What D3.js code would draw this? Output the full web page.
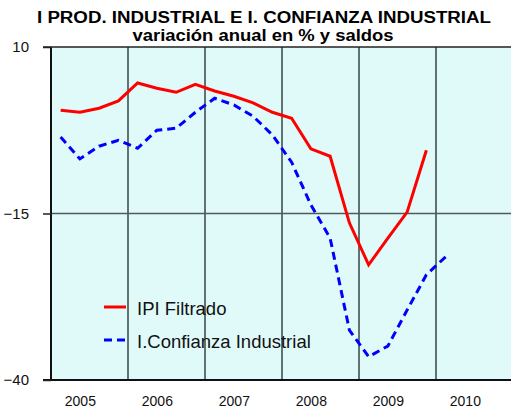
<html>
<head>
<meta charset="utf-8">
<style>
body { margin: 0; background: #fff; font-family: 'Liberation Sans', Arial, sans-serif; }
svg { display: block; }
</style>
</head>
<body>
<svg width="511" height="413"></svg>
<script src="https://d3js.org/d3.v7.min.js"></script>
<script>
// quarters 2005T1 .. 2010T1
const quarters = ["2005T1","2005T2","2005T3","2005T4","2006T1","2006T2","2006T3","2006T4",
	"2007T1","2007T2","2007T3","2007T4","2008T1","2008T2","2008T3","2008T4",
	"2009T1","2009T2","2009T3","2009T4","2010T1"];
const ipi = [0.5, 0.2, 0.8, 1.9, 4.6, 3.8, 3.2, 4.4, 3.4, 2.6, 1.6, 0.2, -0.7, -5.3, -6.4, -16.4,
	-22.7, -18.7, -14.8, -5.5];
const confianza = [-3.5, -6.8, -4.9, -4.0, -5.2, -2.5, -2.2, 0.2, 2.3, 1.3, -0.4, -3.2, -7.3, -13.7,
	-18.7, -32.5, -36.5, -34.9, -29.5, -24.2, -21.5];
const years = [2005, 2006, 2007, 2008, 2009, 2010];
const yTicks = [10, -15, -40];

// quarter label -> decimal year at middle of quarter
function qx(q) {
	return +q.slice(0, 4) + (+q.slice(5) - 0.5) / 4;
}

const svg = d3.select("svg");
const pLeft = 51, pRight = 513, pTop = 47, pBottom = 380;

const x = d3.scaleLinear().domain([2005, 2011]).range([pLeft, pRight]);
const y = d3.scaleLinear().domain([-40, 10]).range([pBottom, pTop]);

// plot background
svg.append("rect")
	.attr("x", pLeft).attr("y", pTop)
	.attr("width", pRight - pLeft).attr("height", pBottom - pTop)
	.attr("fill", "#e0fafa");

// vertical grid at year boundaries
svg.append("g")
	.selectAll("line")
	.data(years.slice(1))
	.enter()
	.append("line")
	.attr("x1", d => x(d)).attr("x2", d => x(d))
	.attr("y1", pTop).attr("y2", pBottom)
	.attr("stroke", "#607272")
	.attr("stroke-width", 2);

// horizontal grid at -15
svg.append("line")
	.attr("x1", pLeft).attr("x2", pRight)
	.attr("y1", y(-15)).attr("y2", y(-15))
	.attr("stroke", "#505a5a")
	.attr("stroke-width", 1.5);

// frame: top, left, bottom
svg.append("line").attr("x1", pLeft - 8).attr("x2", pRight).attr("y1", pTop).attr("y2", pTop)
	.attr("stroke", "#222").attr("stroke-width", 1.5);
svg.append("line").attr("x1", pLeft - 8).attr("x2", pRight).attr("y1", pBottom).attr("y2", pBottom)
	.attr("stroke", "#111").attr("stroke-width", 2);
svg.append("line").attr("x1", pLeft).attr("x2", pLeft).attr("y1", pTop).attr("y2", pBottom)
	.attr("stroke", "#111").attr("stroke-width", 2);

// y axis
const yAxis = svg.append("g")
	.attr("transform", "translate(" + pLeft + ",0)")
	.call(d3.axisLeft(y).tickValues(yTicks).tickSize(8).tickPadding(14).tickFormat(d3.format("d")));
yAxis.select(".domain").remove();
yAxis.selectAll("line").attr("stroke", "#222").attr("stroke-width", 1.5);
yAxis.selectAll("text")
	.attr("fill", "#111")
	.style("font-size", "15px")
	.style("font-family", "'Liberation Sans', Arial, sans-serif");

// x axis labels (centred on 2nd quarter)
const xAxis = svg.append("g")
	.attr("transform", "translate(0," + pBottom + ")")
	.call(d3.axisBottom(x).tickValues(years.map(d => d + 0.375)).tickSize(0).tickPadding(16)
		.tickFormat(d => String(Math.floor(d))));
xAxis.select(".domain").remove();
xAxis.selectAll("text")
	.attr("fill", "#111")
	.style("font-size", "14px")
	.style("font-family", "'Liberation Sans', Arial, sans-serif");

// lines
const line = d3.line()
	.x((d, i) => x(qx(quarters[i])))
	.y(d => y(d));

svg.append("path")
	.datum(confianza)
	.attr("d", line)
	.attr("fill", "none")
	.attr("stroke", "#0000ff")
	.attr("stroke-width", 3)
	.attr("stroke-dasharray", "8,5");

svg.append("path")
	.datum(ipi)
	.attr("d", line)
	.attr("fill", "none")
	.attr("stroke", "#ff0000")
	.attr("stroke-width", 3);

// legend
const legend = [
	{ name: "IPI Filtrado", color: "#ff0000", dash: null },
	{ name: "I.Confianza Industrial", color: "#0000ff", dash: "8,5" }
];
const lg = svg.append("g").selectAll("g")
	.data(legend)
	.enter()
	.append("g")
	.attr("transform", (d, i) => "translate(104," + (307 + i * 33) + ")");
lg.append("line")
	.attr("x1", 0).attr("x2", 22)
	.attr("stroke", d => d.color)
	.attr("stroke-width", 3)
	.attr("stroke-dasharray", d => d.dash);
lg.append("text")
	.attr("x", 33).attr("y", 7.5)
	.style("font-size", "18.5px")
	.attr("fill", "#111")
	.text(d => d.name);

// titles (stretched to the reference widths)
svg.append("text")
	.attr("x", 264).attr("y", 23)
	.attr("text-anchor", "middle")
	.attr("textLength", 454)
	.attr("lengthAdjust", "spacingAndGlyphs")
	.style("font-size", "16px")
	.style("font-weight", "bold")
	.text("I PROD. INDUSTRIAL E I. CONFIANZA INDUSTRIAL");
svg.append("text")
	.attr("x", 263).attr("y", 41)
	.attr("text-anchor", "middle")
	.attr("textLength", 261)
	.attr("lengthAdjust", "spacingAndGlyphs")
	.style("font-size", "16px")
	.style("font-weight", "bold")
	.text("variación anual en % y saldos");
</script>
</body>
</html>
